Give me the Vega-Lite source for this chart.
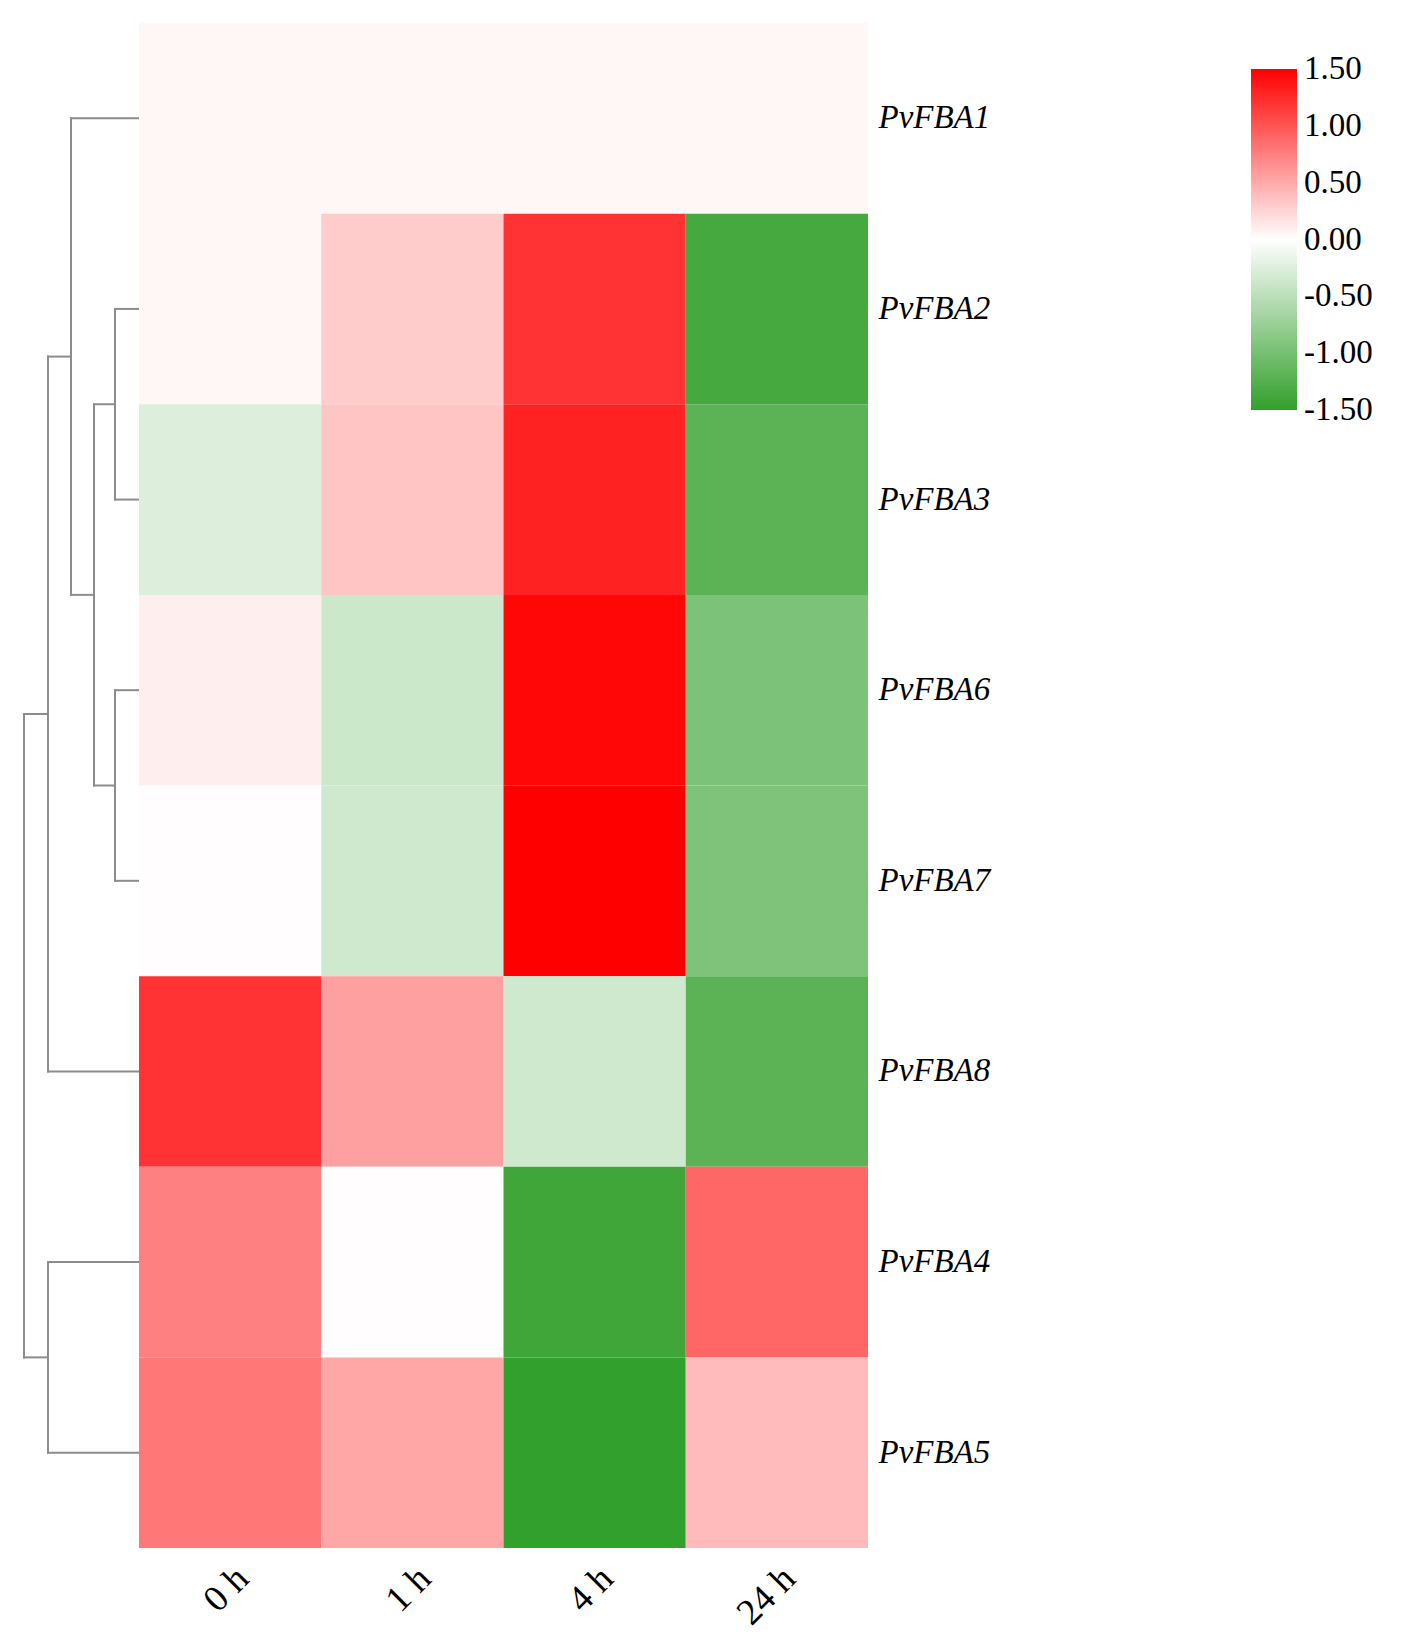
{
  "$schema": "https://vega.github.io/schema/vega-lite/v6.json",
  "padding": {"left": 19, "top": 23, "right": 0, "bottom": 0},
  "autosize": {"type": "pad"},
  "background": "white",
  "bounds": "flush",
  "config": {"view": {"stroke": null}, "concat": {"spacing": 0}},
  "datasets": {
    "dendro": [
      {"h1": 0, "h2": 68, "p1": 0.5, "p2": 0.5},
      {"h1": 0, "h2": 24, "p1": 1.5, "p2": 1.5},
      {"h1": 0, "h2": 24, "p1": 2.5, "p2": 2.5},
      {"h1": 0, "h2": 24, "p1": 3.5, "p2": 3.5},
      {"h1": 0, "h2": 24, "p1": 4.5, "p2": 4.5},
      {"h1": 24, "h2": 45, "p1": 2.0, "p2": 2.0},
      {"h1": 24, "h2": 45, "p1": 4.0, "p2": 4.0},
      {"h1": 45, "h2": 68, "p1": 3.0, "p2": 3.0},
      {"h1": 68, "h2": 91, "p1": 1.75, "p2": 1.75},
      {"h1": 0, "h2": 91, "p1": 5.5, "p2": 5.5},
      {"h1": 0, "h2": 91, "p1": 6.5, "p2": 6.5},
      {"h1": 0, "h2": 91, "p1": 7.5, "p2": 7.5},
      {"h1": 91, "h2": 115, "p1": 3.625, "p2": 3.625},
      {"h1": 91, "h2": 115, "p1": 7.0, "p2": 7.0},
      {"h1": 24, "h2": 24, "p1": 1.5, "p2": 2.5},
      {"h1": 24, "h2": 24, "p1": 3.5, "p2": 4.5},
      {"h1": 45, "h2": 45, "p1": 2.0, "p2": 4.0},
      {"h1": 68, "h2": 68, "p1": 0.5, "p2": 3.0},
      {"h1": 91, "h2": 91, "p1": 1.75, "p2": 5.5},
      {"h1": 91, "h2": 91, "p1": 6.5, "p2": 7.5},
      {"h1": 115, "h2": 115, "p1": 3.625, "p2": 7.0}
    ],
    "cells": [
      {"gene": "PvFBA1", "time": "0 h", "value": 0.05},
      {"gene": "PvFBA1", "time": "1 h", "value": 0.05},
      {"gene": "PvFBA1", "time": "4 h", "value": 0.05},
      {"gene": "PvFBA1", "time": "24 h", "value": 0.05},
      {"gene": "PvFBA2", "time": "0 h", "value": 0.05},
      {"gene": "PvFBA2", "time": "1 h", "value": 0.3},
      {"gene": "PvFBA2", "time": "4 h", "value": 1.2},
      {"gene": "PvFBA2", "time": "24 h", "value": -1.36},
      {"gene": "PvFBA3", "time": "0 h", "value": -0.25},
      {"gene": "PvFBA3", "time": "1 h", "value": 0.35},
      {"gene": "PvFBA3", "time": "4 h", "value": 1.3},
      {"gene": "PvFBA3", "time": "24 h", "value": -1.2},
      {"gene": "PvFBA6", "time": "0 h", "value": 0.1},
      {"gene": "PvFBA6", "time": "1 h", "value": -0.37},
      {"gene": "PvFBA6", "time": "4 h", "value": 1.46},
      {"gene": "PvFBA6", "time": "24 h", "value": -0.96},
      {"gene": "PvFBA7", "time": "0 h", "value": 0.01},
      {"gene": "PvFBA7", "time": "1 h", "value": -0.35},
      {"gene": "PvFBA7", "time": "4 h", "value": 1.5},
      {"gene": "PvFBA7", "time": "24 h", "value": -0.94},
      {"gene": "PvFBA8", "time": "0 h", "value": 1.2},
      {"gene": "PvFBA8", "time": "1 h", "value": 0.56},
      {"gene": "PvFBA8", "time": "4 h", "value": -0.35},
      {"gene": "PvFBA8", "time": "24 h", "value": -1.2},
      {"gene": "PvFBA4", "time": "0 h", "value": 0.75},
      {"gene": "PvFBA4", "time": "1 h", "value": 0.01},
      {"gene": "PvFBA4", "time": "4 h", "value": -1.4},
      {"gene": "PvFBA4", "time": "24 h", "value": 0.9},
      {"gene": "PvFBA5", "time": "0 h", "value": 0.8},
      {"gene": "PvFBA5", "time": "1 h", "value": 0.52},
      {"gene": "PvFBA5", "time": "4 h", "value": -1.5},
      {"gene": "PvFBA5", "time": "24 h", "value": 0.4}
    ]
  },
  "hconcat": [
    {
      "width": 120,
      "height": 1525,
      "data": {"name": "dendro"},
      "mark": {"type": "rule", "color": "#8c8c8c", "strokeWidth": 2, "strokeCap": "square"},
      "encoding": {
        "x": {"field": "h1", "type": "quantitative", "scale": {"domain": [0, 120], "reverse": true, "nice": false, "zero": false}, "axis": null},
        "x2": {"field": "h2"},
        "y": {"field": "p1", "type": "quantitative", "scale": {"domain": [0, 8], "reverse": true, "nice": false, "zero": false}, "axis": null},
        "y2": {"field": "p2"}
      }
    },
    {
      "width": 729,
      "height": 1525,
      "data": {"name": "cells"},
      "mark": {"type": "rect", "strokeWidth": 0},
      "encoding": {
        "x": {
          "field": "time", "type": "ordinal", "sort": ["0 h", "1 h", "4 h", "24 h"],
          "scale": {"paddingInner": 0, "paddingOuter": 0},
          "axis": {"title": null, "labelAngle": -45, "labelFont": "Liberation Serif", "labelFontSize": 37, "labelColor": "black", "ticks": false, "domain": false, "labelPadding": 12}
        },
        "y": {
          "field": "gene", "type": "nominal",
          "sort": ["PvFBA1", "PvFBA2", "PvFBA3", "PvFBA6", "PvFBA7", "PvFBA8", "PvFBA4", "PvFBA5"],
          "scale": {"paddingInner": 0, "paddingOuter": 0},
          "axis": {"orient": "right", "title": null, "labelFont": "Liberation Serif", "labelFontStyle": "italic", "labelFontSize": 33, "labelColor": "black", "ticks": false, "domain": false, "labelPadding": 10}
        },
        "color": {
          "field": "value", "type": "quantitative",
          "scale": {"domain": [-1.5, 0, 1.5], "range": ["#32a02c", "#ffffff", "#ff0000"], "interpolate": "rgb"},
          "legend": {
            "orient": "none", "legendX": 1232, "legendY": 46, "direction": "vertical",
            "title": null, "gradientLength": 341, "gradientThickness": 46, "gradientStrokeWidth": 0,
            "values": [-1.5, -1, -0.5, 0, 0.5, 1, 1.5], "format": ".2f",
            "labelExpr": "replace(datum.label, '\u2212', '-')",
            "labelFont": "Liberation Serif", "labelFontSize": 33, "labelColor": "black",
            "labelOffset": 7, "labelBaseline": "middle", "labelOverlap": false,
            "encode": {"labels": {"update": {"baseline": {"value": "middle"}}}}
          }
        }
      }
    }
  ]
}
